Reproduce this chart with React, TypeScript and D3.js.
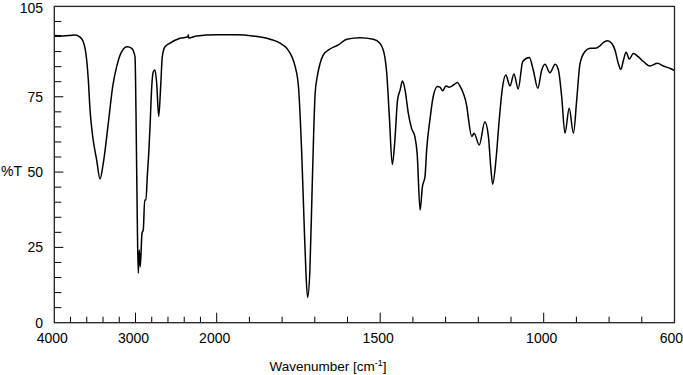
import React from "react";
import * as d3 from "d3";

// IR spectrum
const wavenumbers = [
  4000, 3889, 3745, 3683, 3643, 3601, 3581, 3560, 3527, 3478, 3437, 3397, 3335, 3281, 3232, 3170, 3101, 3047, 3006,
  2994, 2978, 2966, 2953, 2941, 2920, 2904, 2887, 2871, 2855, 2837, 2821, 2800, 2781, 2760, 2739, 2714, 2690, 2670,
  2637, 2575, 2452, 2354, 2350, 2346, 2246, 2000, 1940, 1890, 1837, 1806, 1786, 1770, 1760, 1750, 1740, 1733, 1727,
  1722, 1715, 1708, 1699, 1692, 1684, 1674, 1659, 1628, 1602, 1562, 1521, 1501, 1488, 1480, 1472, 1463, 1455, 1447,
  1439, 1432, 1424, 1414, 1404, 1394, 1387, 1378, 1371, 1363, 1358, 1348, 1338, 1325, 1317, 1309, 1299, 1289, 1276,
  1264, 1256, 1246, 1235, 1231, 1220, 1213, 1197, 1180, 1169, 1162, 1156, 1146, 1136, 1127, 1116, 1103, 1091, 1078,
  1064, 1044, 1032, 1018, 1006, 996, 981, 965, 955, 945, 935, 922, 909, 899, 889, 874, 858, 843, 828, 818, 805, 792,
  782, 772, 764, 756, 748, 738, 726, 711, 695, 675, 652, 634, 613, 600,
];
const transmittance = [
  95.3, 95.2, 95.5, 94.8, 93.3, 87.2, 80.6, 70.6, 61.8, 54.0, 47.7, 52.9, 66.2, 78.4, 85.0, 90.0, 91.6, 91.1, 88.3,
  70.0, 34.1, 16.4, 24.1, 18.6, 29.7, 30.8, 40.7, 40.7, 48.5, 56.2, 65.1, 78.4, 83.3, 83.9, 79.5, 68.5, 78.4, 88.3,
  91.6, 92.8, 94.4, 94.9, 95.6, 94.5, 95.2, 95.6, 95.6, 95.2, 94.1, 92.8, 91.1, 88.3, 85.0, 78.4, 56.2, 34.1, 16.4,
  8.4, 17.5, 45.1, 76.0, 82.0, 86.0, 88.9, 90.5, 92.2, 94.1, 94.6, 94.1, 92.8, 89.4, 82.8, 68.4, 52.5, 60.7, 73.9,
  77.3, 80.2, 77.3, 69.5, 64.5, 61.8, 56.2, 37.4, 45.1, 48.5, 57.3, 67.3, 75.0, 78.4, 78.2, 77.0, 78.6, 78.2, 78.9,
  79.7, 78.5, 76.2, 71.7, 68.4, 61.8, 62.9, 59.0, 66.7, 61.8, 51.8, 46.0, 54.0, 67.3, 77.3, 82.2, 78.6, 82.6, 77.6,
  86.7, 88.0, 83.9, 77.8, 83.9, 85.8, 83.0, 85.8, 83.9, 75.0, 62.9, 71.2, 62.9, 74.0, 86.0, 90.0, 91.1, 91.1, 91.9,
  93.0, 93.6, 92.8, 90.5, 86.1, 84.1, 87.2, 89.8, 87.5, 89.4, 88.3, 86.7, 85.2, 86.1, 85.2, 84.4, 83.7,
];

const xLabels = [4000, 3000, 2000, 1500, 1000, 600];
const xMajor = [3000, 2000, 1500, 1000];
const yLabels = [0, 25, 50, 75, 105];
const yMajor = [25, 50, 75];

const W = 683;
const H = 375;
const left = 54.3;
const right = 674.5;
const top = 6.4;
const bottom = 322.7;

export default function App() {
  // scale change at 2000 cm-1, as on the instrument chart
  const x = d3.scaleLinear().domain([4000, 2000, 600]).range([left, 216.7, right]);
  const y = d3.scaleLinear().domain([0, 105]).range([bottom, top]);

  const pts: [number, number][] = wavenumbers.map((w, i) => [w, transmittance[i]]);
  const line = d3
    .line<[number, number]>()
    .x((d) => x(d[0]))
    .y((d) => y(d[1]))
    .curve(d3.curveMonotoneX);

  const xTicks = [...d3.range(3800, 2000, -200), ...d3.range(1900, 600, -100), 2000];
  const yTicks = d3.range(5, 105, 5);
  const font = "'Liberation Sans', Arial, sans-serif";

  const labelX = (t: number) => (t === 600 ? 683 : x(t) - 2);

  return (
    <svg width={W} height={H} style={{ position: "absolute", left: 0, top: 0 }} fontFamily={font}>
      <rect width={W} height={H} fill="#fff" />
      {xTicks.map((t) => (
        <line
          key={"xt" + t}
          x1={x(t)}
          x2={x(t)}
          y1={bottom}
          y2={bottom - (xMajor.includes(t) ? 10 : 6)}
          stroke="#000"
          strokeWidth={1}
        />
      ))}
      {yTicks.map((t) => (
        <line
          key={"yt" + t}
          x1={left}
          x2={left + (yMajor.includes(t) ? 9 : 7)}
          y1={y(t)}
          y2={y(t)}
          stroke="#000"
          strokeWidth={1}
        />
      ))}
      <path d={line(pts) ?? ""} fill="none" stroke="#000" strokeWidth={1.5} strokeLinejoin="round" />
      <rect x={left} y={top} width={right - left} height={bottom - top} fill="none" stroke="#222" strokeWidth={1.3} />
      {xLabels.map((t) => (
        <text
          key={"xl" + t}
          x={labelX(t)}
          y={343}
          fontSize={14}
          textAnchor={t === 600 ? "end" : "middle"}
          fill="#000"
        >
          {t}
        </text>
      ))}
      {yLabels.map((t) => (
        <text key={"yl" + t} x={43} y={t === 105 ? 12.5 : y(t) + 5} fontSize={14} textAnchor="end" fill="#000">
          {t}
        </text>
      ))}
      <text x={1} y={176} fontSize={14} fill="#000">
        %T
      </text>
      <text x={328} y={371} fontSize={13.5} textAnchor="middle" fill="#000">
        Wavenumber [cm
        <tspan fontSize={9} dy={-5}>
          -1
        </tspan>
        <tspan dy={5}>]</tspan>
      </text>
    </svg>
  );
}
